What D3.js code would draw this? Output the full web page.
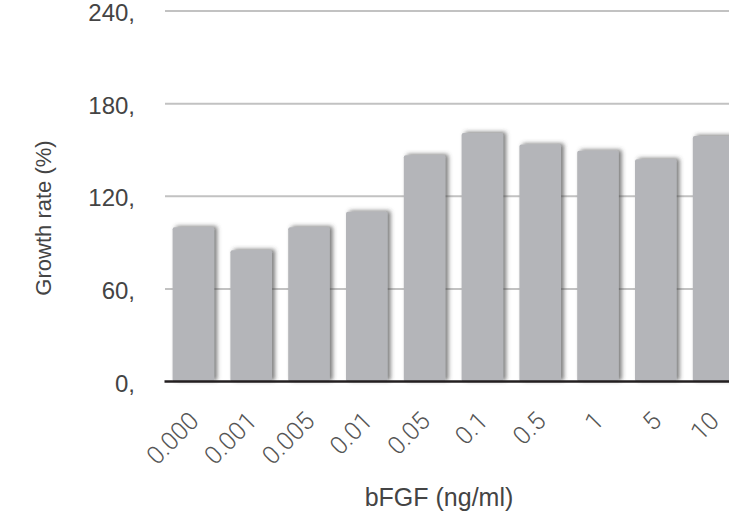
<!DOCTYPE html>
<html>
<head>
<meta charset="utf-8">
<script src="https://cdn.jsdelivr.net/npm/d3@7/dist/d3.min.js"></script>
<style>
  html, body { margin: 0; padding: 0; background: #fff; }
  svg { display: block; }
</style>
</head>
<body>
<svg id="chart" width="729" height="521"></svg>
<script>
// ---- data ----
const categories = ["0.000", "0.001", "0.005", "0.01", "0.05", "0.1", "0.5", "1", "5", "10"];
const growthRate = [100, 85, 100, 110, 146.5, 161, 153.5, 149.5, 144, 159];
const yTicks = [0, 60, 120, 180, 240];
const yTickLabels = ["0,", "60,", "120,", "180,", "240,"];
const xTitle = "bFGF (ng/ml)";
const yTitle = "Growth rate (%)";

// ---- layout ----
const W = 729, H = 521;
const plotLeft = 164.5, plotRight = 742.5, plotTop = 11, plotBottom = 381.5;

const svg = d3.select("#chart");

const defs = svg.append("defs");
const f = defs.append("filter").attr("id", "shadow")
  .attr("x", "-20%").attr("y", "-10%").attr("width", "140%").attr("height", "120%");
f.append("feDropShadow").attr("dx", 3).attr("dy", -1).attr("stdDeviation", 2)
  .attr("flood-color", "#444").attr("flood-opacity", 0.7);

const x = d3.scaleBand().domain(categories).range([plotLeft, plotRight])
  .paddingInner(0.28).paddingOuter(0.14);
const y = d3.scaleLinear().domain([0, 240]).range([plotBottom, plotTop]);

// gridlines
svg.append("g").selectAll("line").data(yTicks.filter(d => d > 0)).join("line")
  .attr("x1", plotLeft + 0.5).attr("x2", W)
  .attr("y1", d => y(d)).attr("y2", d => y(d))
  .attr("stroke", "#c2c2c2").attr("stroke-width", 2);

// y tick labels
svg.append("g").selectAll("text").data(yTicks).join("text")
  .attr("x", 135).attr("y", d => y(d) + 10)
  .attr("text-anchor", "end")
  .attr("font-family", "'Liberation Sans', Arial, sans-serif")
  .attr("font-size", 24).attr("fill", "#444")
  .text((d, i) => yTickLabels[i]);

// bars
svg.append("g").selectAll("rect").data(growthRate).join("rect")
  .attr("x", (d, i) => x(categories[i]))
  .attr("width", x.bandwidth())
  .attr("y", d => y(d))
  .attr("height", d => y(0) - y(d))
  .attr("rx", 2)
  .attr("fill", "#b4b5b9")
  .attr("filter", "url(#shadow)");

// baseline
svg.append("line")
  .attr("x1", plotLeft).attr("x2", W)
  .attr("y1", y(0)).attr("y2", y(0))
  .attr("stroke", "#231f20").attr("stroke-width", 2.5);

// x tick labels (rotated)
svg.append("g").selectAll("text").data(categories).join("text")
  .attr("transform", d => `translate(${x(d) + x.bandwidth() / 2 + 7},${plotBottom + 41}) rotate(-45)`)
  .attr("text-anchor", "end")
  .attr("font-family", "Roboto, 'Open Sans', sans-serif")
  .attr("font-weight", 300)
  .attr("font-size", 25).attr("fill", "#555")
  .text(d => d);

// axis titles
svg.append("text")
  .attr("x", 439).attr("y", 506)
  .attr("text-anchor", "middle")
  .attr("font-family", "'Liberation Sans', Arial, sans-serif")
  .attr("font-size", 25).attr("fill", "#444")
  .text(xTitle);

svg.append("text")
  .attr("transform", `translate(51,218) rotate(-90)`)
  .attr("text-anchor", "middle")
  .attr("font-family", "'Liberation Sans', Arial, sans-serif")
  .attr("font-size", 22).attr("fill", "#444")
  .text(yTitle);
</script>
</body>
</html>
